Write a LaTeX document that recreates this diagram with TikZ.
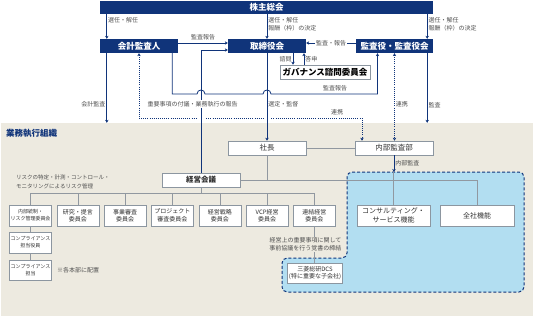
\documentclass[tikz,border=0pt]{standalone}
\usepackage{fontspec}
\setmainfont{Noto Sans CJK JP}
\usepackage{tikz}
\usetikzlibrary{arrows.meta, calc}
\definecolor{mrinavy}{RGB}{16,52,122}
\definecolor{bggray}{RGB}{237,234,224}
\definecolor{grouplblue}{RGB}{178,222,241}
\definecolor{boxgray}{RGB}{140,150,160}
\definecolor{linegray}{RGB}{145,152,160}
\definecolor{labelgray}{RGB}{80,80,80}
\definecolor{textdark}{RGB}{50,50,50}
\tikzset{
  lbl/.style={font=\fontsize{6}{8}\selectfont, text=labelgray, inner sep=1pt, align=left},
  darkbox/.style={fill=mrinavy, text=white, font=\fontsize{8.5}{10}\selectfont\bfseries, minimum height=14pt, inner sep=0pt},
  whitebox/.style={draw=boxgray, fill=white, line width=0.6pt, minimum height=14pt, inner sep=0pt, font=\fontsize{7.5}{9}\selectfont, text=textdark},
  iinbox/.style={whitebox, minimum width=42pt, minimum height=21pt, font=\fontsize{6}{7.5}\selectfont, align=center},
  execarea/.style={fill=bggray, minimum width=532pt, minimum height=193pt, inner sep=0pt},
  areatitle/.style={anchor=west, text=mrinavy, font=\fontsize{8.5}{10}\selectfont\bfseries, inner sep=0pt},
  grouparea/.style={fill=grouplblue, draw=mrinavy, line width=1pt, dash pattern=on 3pt off 2pt, rounded corners=5pt},
  arr/.style={draw=mrinavy, line width=0.8pt, -{Stealth[length=3pt,width=3.4pt]}},
  dotarr/.style={draw=mrinavy, line width=0.8pt, dash pattern=on 1pt off 1.1pt, {Stealth[length=3pt,width=3.4pt]}-{Stealth[length=3pt,width=3.4pt]}},
  orgline/.style={draw=linegray, line width=0.6pt},
}
\begin{document}
\begin{tikzpicture}[x=1pt, y=-1pt]
  \useasboundingbox (0,0) rectangle (533,319);
  \fill[white] (0,0) rectangle (533,319);
  % 業務執行組織
  \node[execarea] (gyomu) at (267,219.5) {};
  \node[areatitle] (gyomutitle) at (6,133) {業務執行組織};
  \coordinate (grouptop) at (347,172);
  \draw[grouparea] (grouptop) -- (524,172) -- (524,292) -- (282,292) -- (282,258) -- (347,258) -- cycle;

  % governance
  \node[darkbox, minimum width=333pt, minimum height=13pt] (kabunushi) at (266.5,7.5) {株主総会};
  \node[darkbox, minimum width=78pt] (kaikei) at (139,46) {会計監査人};
  \node[darkbox, minimum width=78pt] (torishimari) at (267,46) {取締役会};
  \node[darkbox, minimum width=77pt] (kansayaku) at (394.5,46) {監査役・監査役会};
  \node[whitebox, minimum width=90pt, text=black, font=\fontsize{8.5}{10}\selectfont\bfseries] (governance) at (325,72) {ガバナンス諮問委員会};

  % execution
  \node[whitebox, minimum width=78pt] (shacho) at (267,148) {社長};
  \node[whitebox, minimum width=78pt] (naibu) at (394,148) {内部監査部};
  \node[whitebox, minimum width=78pt, font=\fontsize{7.5}{9}\selectfont\bfseries] (keiei) at (201,180) {経営会議};
  \node[lbl, anchor=west, font=\fontsize{5.5}{9.5}\selectfont] (risk) at (15,182) {リスクの特定・計測・コントロール・\\モニタリングによるリスク管理};
  \node[iinbox, font=\fontsize{5}{7}\selectfont] (iin1) at (30.5,215.5) {内部統制・\\リスク管理委員会};
  \foreach \i/\t in {2/{研究・提言\\委員会}, 3/{事業審査\\委員会}, 4/{プロジェクト\\審査委員会}, 5/{経営戦略\\委員会}, 6/{VCP経営\\委員会}, 7/{連結経営\\委員会}}
    \node[iinbox] (iin\i) at ({30.5+47.33*(\i-1)},215.5) {\t};
  \node[iinbox, font=\fontsize{5}{7}\selectfont] (comp1) at (30.5,242.5) {コンプライアンス\\担当役員};
  \node[iinbox, font=\fontsize{5}{7}\selectfont, minimum height=20pt] (comp2) at (30.5,270) {コンプライアンス\\担当};
  \node[lbl] (haichi) at (78,270.5) {※各本部に配置};
  \node[iinbox, minimum width=73pt, font=\fontsize{7}{8.5}\selectfont] (consul) at (393.5,215.5) {コンサルティング・\\サービス機能};
  \node[iinbox, minimum width=74pt, font=\fontsize{7}{8.5}\selectfont] (zensha) at (477,215.5) {全社機能};
  \node[iinbox, minimum width=55pt, minimum height=20pt] (dcs) at (315,273) {三菱総研DCS\\(特に重要な子会社)};

  % org lines
  \draw[orgline] (shacho.east) -- (naibu.west |- shacho.east);
  \draw[orgline] (keiei.east) -| (zensha.north);
  \draw[orgline] (shacho.south) -- (shacho.south |- keiei.east);
  \draw[orgline] (consul.north) -- (consul.north |- grouptop);
  \coordinate (bus) at ($(keiei.south)+(0,6)$);
  \draw[orgline] (keiei.south) -- (bus);
  \foreach \i in {1,...,7} \draw[orgline] (iin\i.north) |- (bus);
  \draw[orgline] (iin1.south) -- (comp1.north);
  \draw[orgline] (comp1.south) -- (comp2.north);
  \draw[orgline] (iin7.south) -- (iin7.south |- dcs.north) node[lbl, midway, xshift=-9pt, fill=bggray, align=center] {経営上の重要事項に関して\\事前協議を行う覚書の締結};

  % governance connectors
  \coordinate (ka0) at ([xshift=7pt]kaikei.south west);
  \coordinate (ks0) at ([xshift=-6pt]kansayaku.south east);
  \draw[arr] (ka0 |- kabunushi.south) -- (ka0 |- kaikei.north) node[lbl, pos=.25, right] {選任・解任};
  \draw[arr] (kabunushi.south -| torishimari.north) -- (torishimari.north) node[lbl, pos=.4, right] {選任・解任\\報酬（枠）の決定};
  \draw[arr] (kabunushi.south -| ks0) -- (ks0 |- kansayaku.north) node[lbl, pos=.4, right] {選任・解任\\報酬（枠）の決定};
  \draw[arr] ([yshift=3pt]kaikei.east) -- ([yshift=3pt]torishimari.west) node[lbl, midway, above=1.5pt] {監査報告};
  \draw[arr] ([yshift=3pt]kansayaku.west) -- ([yshift=3pt]torishimari.east) node[lbl, midway, fill=white] {監査・報告};
  \coordinate (shimon) at ([xshift=26pt]torishimari.south);
  \coordinate (toshin) at ([xshift=37pt]torishimari.south);
  \draw[arr] (shimon) -- (shimon |- governance.north) node[lbl, midway, left] {諮問};
  \draw[arr] (toshin |- governance.north) -- (toshin) node[lbl, midway, right] {答申};
  \coordinate (hopy) at (0,94);
  \draw[arr] ([xshift=-6pt]kaikei.south east) |- ($(keiei.north |- hopy)+(-4,0)$)
    .. controls +(0,-5.3) and +(0,-5.3) .. ($(keiei.north |- hopy)+(4,0)$)
    -- ($(torishimari.south |- hopy)+(-4,0)$)
    .. controls +(0,-5.3) and +(0,-5.3) .. ($(torishimari.south |- hopy)+(4,0)$)
    -| ([xshift=-17pt]kansayaku.south);
  \node[lbl] (kansahoukoku) at ($(governance.south)+(10,8.5)$) {監査報告};

  % 連携
  \coordinate (renkei) at (362,118);
  \draw[dotarr] (kaikei.south) |- (renkei) -- (renkei |- naibu.north);
  \foreach \n in {keiei, torishimari}
    \draw[white, line width=3pt] ($(\n.south |- renkei)+(-3.5,0)$) -- ($(\n.south |- renkei)+(3.5,0)$);
  \node[lbl] (renkei1) at ($(renkei)+(-25,-6)$) {連携};
  \draw[dotarr] (kansayaku.south) -- (kansayaku.south |- naibu.north) node[lbl, pos=.58, right] {連携};

  \draw[arr] (keiei.north) |- ([yshift=-4pt]torishimari.west);
  \draw[arr] (torishimari.south) -- (shacho.north) node[lbl, pos=.58, right] {選定・監督};
  \draw[arr] (ka0) -- (ka0 |- gyomu.north) node[lbl, pos=.74, left] {会計監査};
  \draw[arr] (ks0) -- (ks0 |- gyomu.north) node[lbl, pos=.74, right] {監査};
  \draw[arr] (naibu.south) -- (naibu.south |- grouptop) node[lbl, midway, right] {内部監査};
  \node[lbl, fill=white] (fugi) at (192.5,104) {重要事項の付議・業務執行の報告};
\end{tikzpicture}
\end{document}
